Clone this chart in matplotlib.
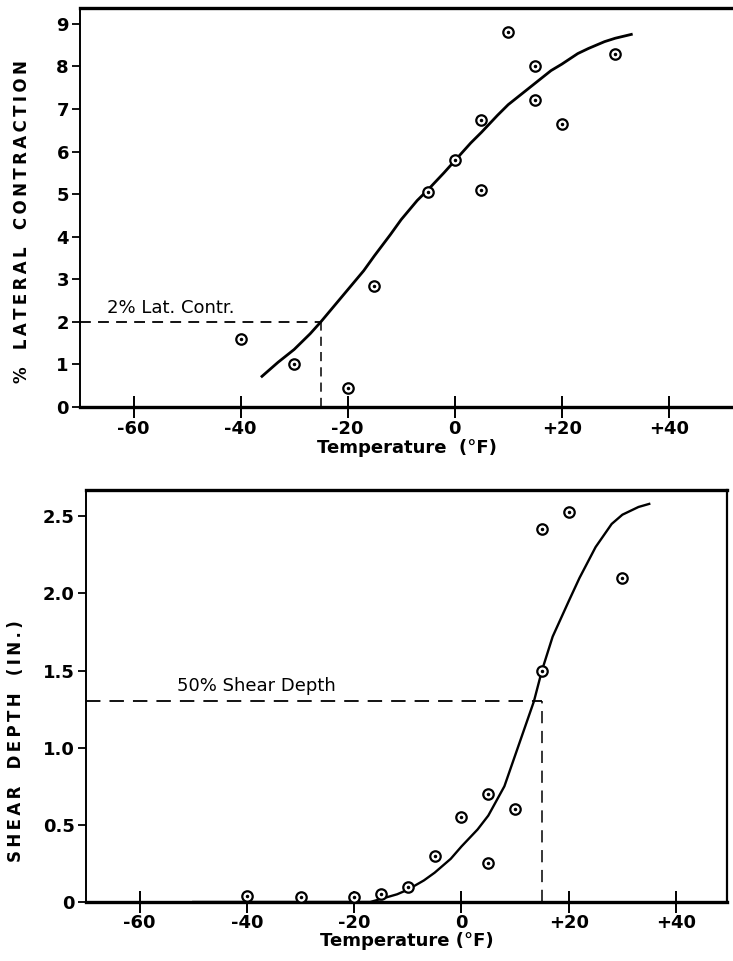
import numpy as np
import matplotlib
matplotlib.use("Agg")
from matplotlib import pyplot as plt

plt.rcParams['font.family'] = ['DejaVu Sans']

# top panel: lateral contraction
lat_t = [-40, -30, -20, -15, -5, 0, 5, 5, 10, 15, 15, 20, 30]
lat_v = [1.6, 1.0, 0.45, 2.85, 5.05, 5.8, 6.75, 5.1, 8.8, 8.0, 7.2, 6.65, 8.3]
lat_curve_t = [-36, -33, -30, -27, -25, -22, -20, -17, -15, -12, -10, -7, -5, -2, 0,
               3, 5, 8, 10, 13, 15, 18, 20, 23, 25, 28, 30, 33]
lat_curve_v = [0.72, 1.05, 1.35, 1.72, 2.0, 2.45, 2.75, 3.2, 3.55, 4.05, 4.4, 4.85, 5.1, 5.5, 5.78,
               6.2, 6.45, 6.85, 7.1, 7.4, 7.6, 7.9, 8.05, 8.3, 8.42, 8.58, 8.66, 8.75]
lat_ref = (-25, 2.0)

# bottom panel: shear depth
sh_t = [-40, -30, -20, -15, -10, -5, 0, 5, 5, 10, 15, 15, 20, 30]
sh_v = [0.04, 0.03, 0.03, 0.05, 0.1, 0.3, 0.55, 0.7, 0.25, 0.6, 2.42, 1.5, 2.53, 2.1]
sh_curve_t = [-50, -17, -15, -12, -10, -7, -5, -2, 0, 3, 5, 8, 10, 12, 13.5,
              15, 17, 20, 22, 25, 28, 30, 33, 35]
sh_curve_v = [0.0, 0.0, 0.02, 0.05, 0.08, 0.14, 0.19, 0.28, 0.36, 0.47, 0.56, 0.75, 0.95, 1.15, 1.3,
              1.5, 1.72, 1.95, 2.1, 2.3, 2.45, 2.51, 2.56, 2.58]
sh_ref = (15, 1.3)

xticks = [-60, -40, -20, 0, 20, 40]
xtick_labels = ['-60', '-40', '-20', '0', '+20', '+40']


def spaced(words, gap='   '):
    # wide letter spacing like the lettering guide on the original
    return gap.join('\u2009'.join(w) for w in words)


fig = plt.figure(figsize=(7.33, 9.61), dpi=100)
ax1 = fig.add_axes([80/733, 1-407/961, 1-80/733, (407-8)/961])
ax2 = fig.add_axes([86/733, 1-902/961, (727-86)/733, (902-490)/961])


def points(ax, t, v):
    ax.plot(t, v, 'o', ms=7.5, mfc='white', mec='black', mew=1.6, zorder=4)
    ax.plot(t, v, 'o', ms=1.5, color='black', zorder=5)


def style(ax):
    for s in ['top', 'bottom']:
        ax.spines[s].set_linewidth(2.4)
    ax.spines['left'].set_linewidth(1.4)
    ax.spines['right'].set_linewidth(1.6)
    ax.set_xticks(xticks)
    ax.set_xticklabels(xtick_labels)
    ax.tick_params(axis='x', direction='inout', length=16, width=1.4, labelsize=13, pad=1)
    ax.tick_params(axis='y', direction='out', length=6, width=1.3, labelsize=13, pad=2)
    for lab in ax.get_xticklabels() + ax.get_yticklabels():
        lab.set_fontweight('bold')


# top
ax1.plot(lat_curve_t, lat_curve_v, color='black', lw=2.0, zorder=3)
points(ax1, lat_t, lat_v)
ax1.plot([-70, lat_ref[0]], [lat_ref[1], lat_ref[1]], color='black', lw=1.3, ls=(0, (6, 4)))
ax1.plot([lat_ref[0], lat_ref[0]], [0, lat_ref[1]], color='black', lw=1.1, ls=(0, (6, 4)))
ax1.text(-65, 2.2, '2% Lat. Contr.', fontsize=13)
ax1.set_xlim(-70, 52)
ax1.set_ylim(0, 9.37)
ax1.set_yticks(range(10))
style(ax1)
ax1.spines['right'].set_visible(False)
ax1.set_xlabel('Temperature  (°F)', fontsize=13, fontweight='bold', labelpad=1)
ax1.set_ylabel(spaced(['%', 'LATERAL', 'CONTRACTION']), fontsize=12, fontweight='bold')
ax1.yaxis.set_label_coords(-0.075, 0.464)

# bottom
ax2.plot(sh_curve_t, sh_curve_v, color='black', lw=1.7, zorder=3)
points(ax2, sh_t, sh_v)
ax2.plot([-70, sh_ref[0]], [sh_ref[1], sh_ref[1]], color='black', lw=1.3, ls=(0, (8, 5)))
ax2.plot([sh_ref[0], sh_ref[0]], [0, sh_ref[1]], color='black', lw=1.1, ls=(0, (8, 5)))
ax2.text(-53, 1.37, '50% Shear Depth', fontsize=13)
ax2.set_xlim(-70, 49.5)
ax2.set_ylim(0, 2.67)
ax2.set_yticks([0, 0.5, 1.0, 1.5, 2.0, 2.5])
ax2.set_yticklabels(['0', '0.5', '1.0', '1.5', '2.0', '2.5'])
style(ax2)
ax2.set_xlabel('Temperature (°F)', fontsize=13, fontweight='bold', labelpad=0)
ax2.set_ylabel(spaced(['SHEAR', 'DEPTH', '(IN.)']), fontsize=12, fontweight='bold')
ax2.yaxis.set_label_coords(-0.095, 0.39)

fig.savefig('out.png', dpi=100)
